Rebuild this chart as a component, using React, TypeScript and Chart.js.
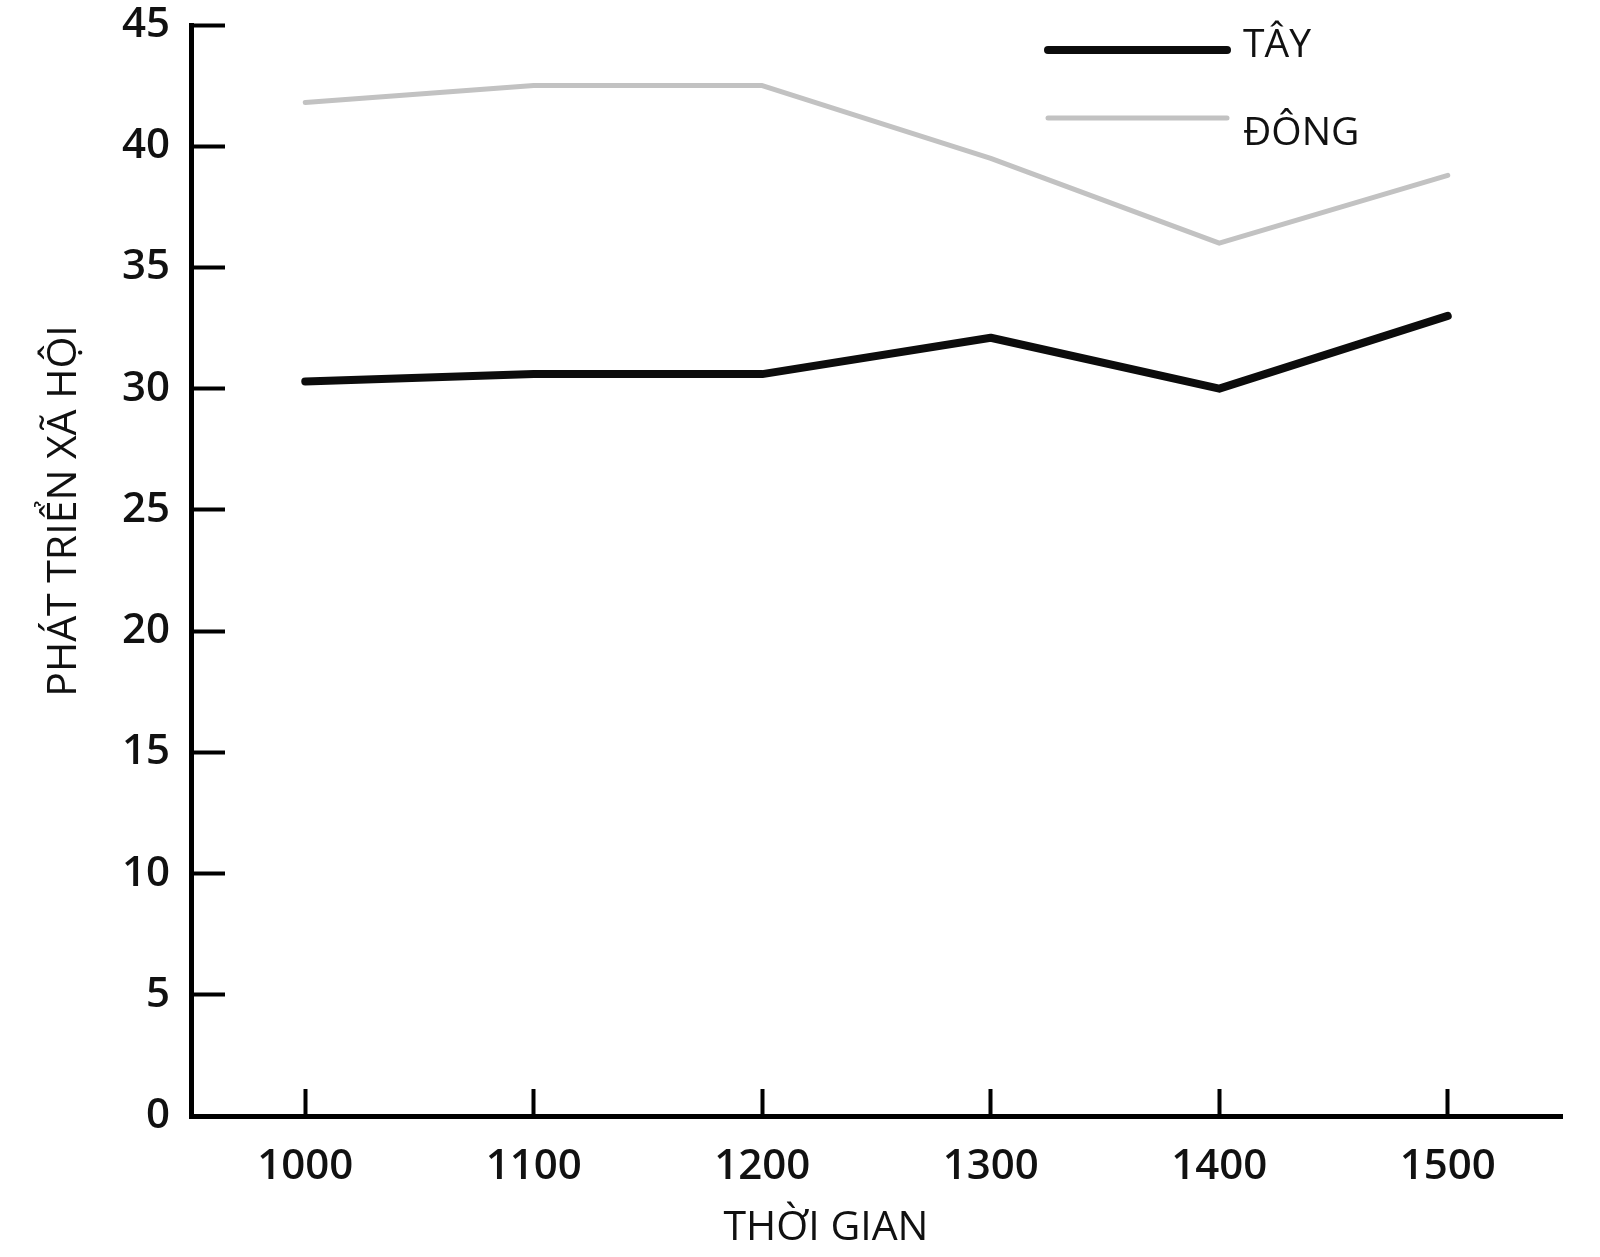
import React, { useEffect, useRef } from "react"
import { Chart, registerables } from "chart.js"

Chart.register(...registerables)

// years on the x axis
const years = [1000, 1100, 1200, 1300, 1400, 1500]
// social development index
const westValues = [30.3, 30.6, 30.6, 32.1, 30.0, 33.0]
const eastValues = [41.8, 42.5, 42.5, 39.5, 36.0, 38.8]
const seriesLabels = ["TÂY", "ĐÔNG"]
const yTicks = [0, 5, 10, 15, 20, 25, 30, 35, 40, 45]
const xTitle = "THỜI GIAN"
const yTitle = "PHÁT TRIỂN XÃ HỘI"

const FONT = '"Open Sans", "Noto Sans", sans-serif'

// legend drawn inside the plot, top right
const legendLine = { x0: 1048, x1: 1227, textX: 1243 }
const legendLineY = [50, 118]
const legendTextY = [46, 134]
// both axis titles sit off the plot centre in the original
const xTitlePos = { x: 826, y: 1228 }
const yTitlePos = { x: 64, y: 511 }

const overlayText = {
  id: "overlayText",
  afterDatasetsDraw(chart: Chart) {
    const { ctx } = chart
    chart.data.datasets.forEach((ds: any, i: number) => {
      ctx.save()
      ctx.strokeStyle = ds.borderColor
      ctx.lineWidth = ds.borderWidth
      ctx.lineCap = "round"
      ctx.beginPath()
      ctx.moveTo(legendLine.x0, legendLineY[i])
      ctx.lineTo(legendLine.x1, legendLineY[i])
      ctx.stroke()
      ctx.fillStyle = "#111"
      ctx.font = `39px ${FONT}`
      ctx.textBaseline = "middle"
      ctx.textAlign = "left"
      ctx.fillText(ds.label, legendLine.textX, legendTextY[i])
      ctx.restore()
    })

    ctx.save()
    ctx.fillStyle = "#111"
    ctx.font = `41px ${FONT}`
    ctx.textBaseline = "middle"
    ctx.textAlign = "center"
    ctx.fillText(xTitle, xTitlePos.x, xTitlePos.y)
    ctx.translate(yTitlePos.x, yTitlePos.y)
    ctx.rotate(-Math.PI / 2)
    ctx.fillText(yTitle, 0, 0)
    ctx.restore()
  },
}

const SocialChart: React.FC = () => {
  const chartRef = useRef<HTMLCanvasElement | null>(null)

  useEffect(() => {
    document.body.style.margin = "0"
    if (!chartRef.current) return
    const ctx = chartRef.current.getContext("2d")
    if (!ctx) return

    const chartInstance = new Chart(ctx, {
      type: "line",
      data: {
        datasets: [
          {
            label: seriesLabels[0],
            data: years.map((x, i) => ({ x, y: westValues[i] })),
            borderColor: "#0c0c0c",
            borderWidth: 8,
            borderCapStyle: "round",
            borderJoinStyle: "round",
            pointRadius: 0,
            tension: 0,
          },
          {
            label: seriesLabels[1],
            data: years.map((x, i) => ({ x, y: eastValues[i] })),
            borderColor: "#c2c2c2",
            borderWidth: 5,
            borderCapStyle: "round",
            borderJoinStyle: "round",
            pointRadius: 0,
            tension: 0,
          },
        ],
      },
      options: {
        responsive: false,
        animation: false,
        layout: { padding: { left: 0, top: 25, right: 38, bottom: 0 } },
        plugins: {
          legend: { display: false },
          tooltip: { enabled: false },
        },
        scales: {
          x: {
            type: "linear",
            min: 950,
            max: 1550,
            afterBuildTicks: (scale: any) => {
              scale.ticks = years.map((v) => ({ value: v }))
            },
            afterFit: (scale: any) => {
              scale.height = 141
              scale.paddingLeft = 0
              scale.paddingRight = 0
            },
            border: { display: true, color: "#000", width: 5 },
            grid: {
              drawOnChartArea: false,
              drawTicks: true,
              tickLength: -27,
              tickWidth: 4,
              tickColor: "#000",
            },
            ticks: {
              padding: 53,
              color: "#111",
              font: { family: FONT, size: 42, weight: 600 },
              callback: (v: any) => String(v),
              maxRotation: 0,
            },
          },
          y: {
            min: 0,
            max: 45,
            afterBuildTicks: (scale: any) => {
              scale.ticks = yTicks.map((v) => ({ value: v }))
            },
            afterFit: (scale: any) => {
              scale.width = 191
              scale.paddingTop = 0
              scale.paddingBottom = 0
            },
            border: { display: true, color: "#000", width: 5 },
            grid: {
              drawOnChartArea: false,
              drawTicks: true,
              tickLength: -34,
              tickWidth: 4,
              tickColor: "#000",
            },
            ticks: {
              padding: 55,
              color: "#111",
              font: { family: FONT, size: 42, weight: 600, lineHeight: 1 },
            },
          },
        },
      },
      plugins: [overlayText],
    })

    return () => {
      chartInstance.destroy()
    }
  }, [])

  return (
    <div style={{ width: 1600, height: 1257, background: "#fff" }}>
      <canvas ref={chartRef} width={1600} height={1257} style={{ width: 1600, height: 1257 }} />
    </div>
  )
}

export default function App() {
  return <SocialChart />
}
